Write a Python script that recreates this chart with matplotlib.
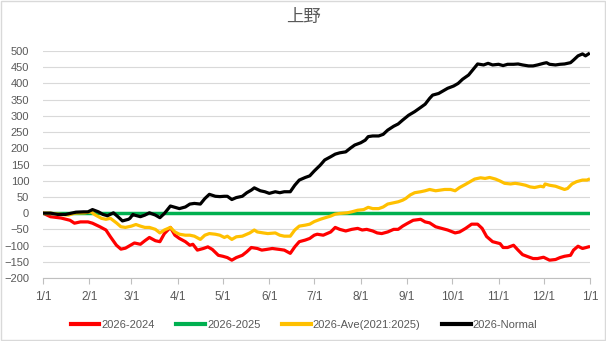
import matplotlib
matplotlib.use("Agg")
import matplotlib.pyplot as plt
from matplotlib.lines import Line2D
from matplotlib.patches import Rectangle

plt.rcParams['font.family'] = ['Liberation Sans', 'Noto Sans CJK JP', 'DejaVu Sans']

# day offsets from 1/1 and cumulative differences for each comparison
red_days = [0, 5, 12, 18, 21, 25, 30, 33, 38, 42, 45, 49, 52, 55, 58, 61, 65, 68, 71, 75,
            78, 81, 85, 88, 91, 95, 98, 100, 103, 107, 110, 113, 117, 120, 123, 126, 129,
            133, 136, 139, 143, 146, 149, 153, 158, 161, 165, 168, 171, 175, 178, 181, 183,
            187, 192, 195, 198, 202, 206, 210, 213, 216, 220, 223, 226, 230, 234, 237, 240,
            243, 247, 252, 255, 258, 262, 266, 270, 275, 278, 282, 286, 290, 293, 296, 300,
            305, 307, 310, 314, 317, 320, 324, 327, 330, 334, 338, 342, 345, 348, 352, 354,
            357, 360, 364]
red_vals = [0, -11, -15, -22, -31, -27, -27, -31, -42, -52, -73, -99, -111, -108, -100, -92,
            -96, -85, -75, -85, -88, -63, -44, -68, -78, -88, -99, -96, -114, -109, -104,
            -112, -130, -133, -137, -145, -137, -130, -119, -106, -109, -114, -112, -109,
            -112, -114, -124, -104, -88, -83, -78, -68, -65, -68, -58, -44, -50, -55, -50,
            -47, -52, -50, -55, -61, -63, -58, -50, -50, -40, -32, -22, -19, -27, -30, -42,
            -47, -52, -61, -58, -47, -34, -34, -47, -72, -88, -94, -106, -106, -99, -114,
            -128, -135, -140, -140, -136, -145, -143, -137, -133, -130, -114, -102, -109, -104]

green_days = [0, 364]
green_vals = [0, 0]

ave_days = [0, 5, 10, 17, 21, 28, 32, 35, 39, 42, 45, 49, 52, 55, 59, 62, 65, 68, 71, 75,
            78, 81, 85, 88, 91, 95, 98, 101, 105, 108, 111, 115, 118, 121, 123, 126, 129,
            133, 138, 141, 143, 147, 150, 155, 158, 161, 165, 168, 171, 175, 178, 181, 185,
            187, 192, 195, 198, 203, 206, 210, 214, 217, 220, 224, 227, 230, 234, 237, 240,
            242, 245, 248, 252, 255, 258, 262, 265, 268, 272, 275, 278, 282, 285, 288, 292,
            295, 298, 302, 305, 308, 312, 315, 318, 322, 325, 328, 332, 334, 335, 338, 342,
            345, 348, 350, 353, 356, 360, 363, 364]
ave_vals = [0, 0, -3, -6, 0, 1, 4, -6, -16, -19, -16, -30, -42, -44, -40, -35, -40, -44, -44,
            -50, -61, -52, -44, -58, -65, -68, -68, -71, -81, -68, -63, -65, -68, -75, -71,
            -81, -73, -71, -61, -52, -58, -61, -63, -61, -68, -71, -71, -52, -40, -37, -34,
            -26, -19, -16, -9, -3, -1, 1, 4, 9, 11, 18, 14, 14, 19, 28, 32, 35, 40, 45, 56,
            63, 66, 69, 73, 69, 71, 73, 73, 69, 79, 89, 97, 105, 109, 107, 110, 105, 99, 92,
            90, 92, 90, 86, 81, 79, 83, 81, 90, 86, 83, 78, 73, 76, 90, 97, 102, 102, 104]

normal_days = [0, 5, 10, 15, 19, 22, 27, 30, 33, 37, 40, 43, 47, 50, 53, 57, 58, 60, 61, 65,
               68, 71, 75, 78, 81, 85, 88, 91, 95, 98, 101, 105, 108, 111, 115, 118, 121, 123,
               126, 129, 133, 136, 139, 141, 145, 148, 151, 155, 158, 161, 165, 168, 171, 175,
               178, 181, 185, 188, 192, 195, 198, 202, 205, 208, 212, 215, 217, 220, 224, 227,
               230, 234, 237, 240, 244, 248, 252, 255, 258, 260, 264, 267, 270, 274, 277, 280,
               284, 287, 290, 294, 297, 300, 304, 307, 310, 314, 317, 320, 324, 327, 330, 334,
               336, 338, 342, 345, 348, 352, 354, 357, 360, 362, 364]
normal_vals = [0, 0, -4, -4, 0, 3, 4, 4, 11, 4, -4, -8, 1, -11, -24, -19, -16, -4, -6, -11,
               -6, 1, -6, -14, -1, 22, 18, 14, 19, 28, 30, 28, 45, 58, 52, 51, 52, 52, 42, 48,
               52, 63, 71, 78, 69, 66, 61, 66, 63, 66, 66, 86, 102, 110, 115, 130, 148, 164,
               174, 182, 186, 189, 200, 210, 217, 225, 236, 238, 238, 243, 256, 268, 275, 287,
               302, 313, 326, 336, 354, 364, 369, 377, 385, 392, 400, 413, 426, 443, 460, 457,
               462, 457, 459, 455, 459, 459, 460, 457, 454, 454, 457, 462, 464, 459, 457, 459,
               460, 464, 472, 485, 491, 485, 491]

month_starts = [0, 31, 59, 90, 120, 151, 181, 212, 243, 273, 304, 334, 365]
month_labels = ['1/1', '2/1', '3/1', '4/1', '5/1', '6/1', '7/1', '8/1', '9/1', '10/1',
                '11/1', '12/1', '1/1']

series = [
    ('2026-2024', red_days, red_vals, '#FF0000', 2.3),
    ('2026-2025', green_days, green_vals, '#00B050', 2.5),
    ('2026-Ave(2021:2025)', ave_days, ave_vals, '#FFC000', 2.3),
    ('2026-Normal', normal_days, normal_vals, '#000000', 2.3),
]

fig = plt.figure(figsize=(6.06, 3.41), dpi=100)
ax = fig.add_axes([43 / 606, 1 - 278 / 341, 547 / 606, 227 / 341])

for name, d, v, c, lw in series:
    ax.plot(d, v, color=c, lw=lw, label=name, solid_joinstyle='round')

ax.set_xlim(0, 365)
ax.set_ylim(-200, 500)
ax.set_yticks(range(-200, 501, 50))
ax.set_xticks(month_starts)
ax.set_xticklabels(month_labels)
ax.grid(axis='y', color='#D9D9D9', lw=0.8)
ax.set_axisbelow(True)
for s in ['top', 'right', 'left']:
    ax.spines[s].set_visible(False)
ax.spines['bottom'].set_color('#BFBFBF')
ax.spines['bottom'].set_linewidth(0.8)
ax.tick_params(axis='y', length=0, pad=10, labelsize=8, labelcolor='#595959')
ax.tick_params(axis='x', length=4, color='#BFBFBF', pad=5, labelsize=8.5, labelcolor='#595959')

fig.text(0.5, 1 - 17 / 341, '上野', ha='center', va='center', fontsize=12.5,
         color='#595959', family=['Noto Sans CJK JP', 'DejaVu Sans'])

handles = [Line2D([], [], color=c, lw=3) for _, _, _, c, _ in series]
fig.legend(handles, [s[0] for s in series], loc='center', ncol=4,
           bbox_to_anchor=(304 / 606, 1 - 325 / 341), frameon=False, fontsize=8,
           handlelength=2.6, handletextpad=0.2, columnspacing=1.9, labelcolor='#595959')

fig.add_artist(Rectangle((0.001, 0.002), 0.997, 0.995, transform=fig.transFigure,
                         fill=False, edgecolor='#D9D9D9', lw=1))

fig.savefig('out.png', dpi=100)
